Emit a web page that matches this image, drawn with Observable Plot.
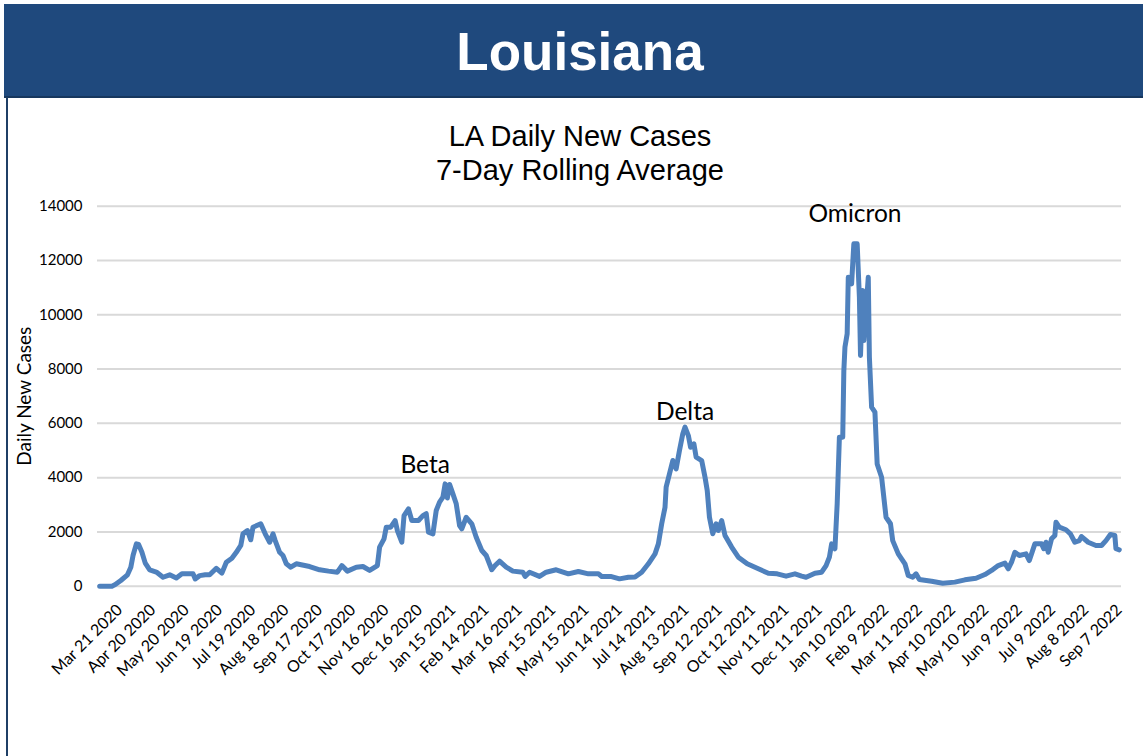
<!DOCTYPE html>
<html>
<head>
<meta charset="utf-8">
<script src="https://cdn.jsdelivr.net/npm/d3@7"></script>
<script src="https://cdn.jsdelivr.net/npm/@observablehq/plot@0.6"></script>
<style>
  html, body { margin: 0; padding: 0; background: #fff; }
  #page { position: relative; width: 1143px; height: 756px; overflow: hidden; background: #fff; }
  #band { position: absolute; left: 4px; top: 4px; right: 0; height: 93px; background: #1F497D; }
  #band-rule { position: absolute; left: 4px; top: 96px; right: 0; height: 2px; background: #17375E; }
  #state { position: absolute; left: 0; top: 22px; width: 1160px; text-align: center;
           font-family: "Liberation Sans", Arial, sans-serif; font-weight: bold; font-size: 53px;
           line-height: 60px; color: #fff; }
  #frame-left { position: absolute; left: 6px; top: 97px; width: 2px; bottom: 0; background: #1F3F66; }
  #title { position: absolute; left: 0; top: 119px; width: 1160px; text-align: center;
           font-family: "Liberation Sans", Arial, sans-serif; font-size: 29px; line-height: 34px; color: #000; }
  #chart { position: absolute; left: 0; top: 0; }
  #chart g[aria-label="x-axis tick label"] text { font-size: 16px; }
  #chart g[aria-label="y-axis tick label"] text { font-size: 15px; }
  #chart g[aria-label="y-axis label"] text { font-size: 19px; }
</style>
</head>
<body>
<div id="page">
  <div id="band"></div>
  <div id="band-rule"></div>
  <div id="state">Louisiana</div>
  <div id="frame-left"></div>
  <div id="title">LA Daily New Cases<br>7-Day Rolling Average</div>
  <div id="chart"></div>
</div>
<script>
// Louisiana 7-day rolling average of daily new COVID-19 cases
const dates = [
  "2020-03-03","2020-03-14","2020-03-17","2020-03-22","2020-03-28","2020-03-31","2020-04-02","2020-04-05",
  "2020-04-07","2020-04-10","2020-04-13","2020-04-17","2020-04-23","2020-04-29","2020-05-05","2020-05-11",
  "2020-05-16","2020-05-26","2020-05-28","2020-06-01","2020-06-06","2020-06-10","2020-06-16","2020-06-21",
  "2020-06-25","2020-06-30","2020-07-04","2020-07-08","2020-07-10","2020-07-14","2020-07-17","2020-07-19",
  "2020-07-26","2020-07-30","2020-08-03","2020-08-06","2020-08-08","2020-08-12","2020-08-15","2020-08-18",
  "2020-08-22","2020-08-27","2020-09-08","2020-09-17","2020-09-25","2020-10-03","2020-10-07","2020-10-12",
  "2020-10-20","2020-10-26","2020-11-01","2020-11-08","2020-11-10","2020-11-14","2020-11-16","2020-11-20",
  "2020-11-24","2020-11-26","2020-11-30","2020-12-02","2020-12-06","2020-12-09","2020-12-15","2020-12-19",
  "2020-12-22","2020-12-24","2020-12-28","2020-12-31","2021-01-03","2021-01-06","2021-01-08","2021-01-10",
  "2021-01-12","2021-01-15","2021-01-18","2021-01-21","2021-01-23","2021-01-27","2021-02-01","2021-02-05",
  "2021-02-10","2021-02-14","2021-02-19","2021-02-22","2021-02-26","2021-03-04","2021-03-10","2021-03-19",
  "2021-03-21","2021-03-25","2021-04-03","2021-04-09","2021-04-18","2021-04-29","2021-05-08","2021-05-17",
  "2021-05-26","2021-05-29","2021-06-06","2021-06-14","2021-06-22","2021-06-28","2021-07-04","2021-07-10",
  "2021-07-16","2021-07-19","2021-07-22","2021-07-25","2021-07-26","2021-07-29","2021-08-01","2021-08-04",
  "2021-08-07","2021-08-10","2021-08-12","2021-08-15","2021-08-17","2021-08-20","2021-08-22","2021-08-27",
  "2021-08-30","2021-09-01","2021-09-03","2021-09-06","2021-09-09","2021-09-11","2021-09-14","2021-09-17",
  "2021-09-23","2021-09-29","2021-10-07","2021-10-17","2021-10-26","2021-11-03","2021-11-11","2021-11-19",
  "2021-11-25","2021-11-29","2021-12-07","2021-12-13","2021-12-17","2021-12-20","2021-12-22","2021-12-25",
  "2021-12-27","2021-12-29","2022-01-01","2022-01-02","2022-01-03","2022-01-05","2022-01-06","2022-01-09",
  "2022-01-11","2022-01-14","2022-01-16","2022-01-17","2022-01-19","2022-01-20","2022-01-24","2022-01-25",
  "2022-01-27","2022-01-30","2022-02-01","2022-02-05","2022-02-09","2022-02-13","2022-02-15","2022-02-20",
  "2022-02-26","2022-03-01","2022-03-05","2022-03-08","2022-03-11","2022-03-22","2022-04-01","2022-04-12",
  "2022-04-21","2022-05-01","2022-05-09","2022-05-15","2022-05-21","2022-05-27","2022-05-30","2022-06-02",
  "2022-06-05","2022-06-09","2022-06-15","2022-06-18","2022-06-23","2022-06-29","2022-07-01","2022-07-03",
  "2022-07-05","2022-07-08","2022-07-11","2022-07-12","2022-07-15","2022-07-21","2022-07-25","2022-07-29",
  "2022-08-02","2022-08-04","2022-08-10","2022-08-17","2022-08-22","2022-08-26","2022-08-30","2022-09-03",
  "2022-09-04","2022-09-07"
];
const cases = [
  0, 0, 60, 210, 420, 700, 1130, 1560,
  1540, 1250, 850, 600, 520, 330, 420, 300,
  455, 455, 270, 390, 420, 420, 660, 480,
  880, 1030, 1250, 1500, 1930, 2050, 1710, 2170,
  2300, 1930, 1620, 1930, 1680, 1250, 1130, 825,
  700, 825, 725, 605, 555, 515, 760, 555,
  700, 725, 580, 760, 1440, 1745, 2175, 2175,
  2420, 2050, 1620, 2600, 2850, 2420, 2420, 2600,
  2670, 1990, 1930, 2790, 3100, 3280, 3770, 3250,
  3750, 3400, 3035, 2235, 2115, 2540, 2300, 1805,
  1315, 1130, 605, 760, 920, 700, 555, 515,
  360, 515, 360, 515, 605, 455, 540, 455,
  455, 360, 360, 270, 330, 340, 515, 825,
  1190, 1560, 2300, 2910, 3650, 4140, 4630, 4325,
  5000, 5615, 5860, 5550, 5120, 5245, 4755, 4630,
  4015, 3525, 2540, 1930, 2300, 2050, 2420, 1870,
  1440, 1070, 825, 640, 480, 455, 370, 455,
  370, 330, 480, 515, 760, 1070, 1560, 1380,
  3035, 5490, 5490, 7945, 8805, 9300, 11385, 11140,
  12615, 12615, 10650, 8500, 10895, 9050, 11385, 8440,
  6595, 6410, 4505, 4015, 2540, 2300, 1680, 1190,
  825, 395, 330, 455, 245, 185, 110, 150,
  235, 295, 430, 580, 760, 850, 640, 885,
  1250, 1130, 1190, 945, 1560, 1560, 1380, 1620,
  1250, 1745, 1870, 2360, 2175, 2080, 1930, 1620,
  1680, 1830, 1620, 1500, 1500, 1680, 1905, 1870,
  1380, 1340
];

// Axis ticks
const xTickDates = [
  "2020-03-21","2020-04-20","2020-05-20","2020-06-19","2020-07-19","2020-08-18","2020-09-17","2020-10-17",
  "2020-11-16","2020-12-16","2021-01-15","2021-02-14","2021-03-16","2021-04-15","2021-05-15","2021-06-14",
  "2021-07-14","2021-08-13","2021-09-12","2021-10-12","2021-11-11","2021-12-11","2022-01-10","2022-02-09",
  "2022-03-11","2022-04-10","2022-05-10","2022-06-09","2022-07-09","2022-08-08","2022-09-07"
];
const yTicks = [0, 2000, 4000, 6000, 8000, 10000, 12000, 14000];

// Wave annotations
const waveNames = ["Beta", "Delta", "Omicron"];
const waveDates = ["2020-12-21", "2021-08-12", "2022-01-12"];
const waveLevels = [4450, 6430, 13700];

const series = dates.map((d, i) => ({date: new Date(d), cases: cases[i]}));
const waves = waveNames.map((name, i) => ({name, date: new Date(waveDates[i]), level: waveLevels[i]}));

const chart = Plot.plot({
  width: 1143,
  height: 756,
  marginTop: 205.7,
  marginBottom: 170.3,
  marginLeft: 97,
  marginRight: 22,
  style: {background: "transparent", fontFamily: "Lato, sans-serif", fontSize: "14px", color: "#000"},
  x: {
    type: "utc",
    domain: [new Date("2020-03-01"), new Date("2022-09-09")],
    ticks: xTickDates.map(d => new Date(d)),
    tickFormat: d3.utcFormat("%b %-d %Y"),
    tickRotate: -45,
    tickSize: 0,
    tickPadding: 21,
    label: null
  },
  y: {
    domain: [0, 14000],
    ticks: yTicks,
    tickFormat: d => String(d),
    tickSize: 0,
    tickPadding: 15,
    label: "Daily New Cases",
    labelAnchor: "center",
    labelArrow: "none",
    labelOffset: 80
  },
  marks: [
    Plot.ruleY(yTicks, {stroke: "#d9d9d9", strokeWidth: 2}),
    Plot.lineY(series, {x: "date", y: "cases", stroke: "#4F81BD", strokeWidth: 5,
                        strokeLinejoin: "round", strokeLinecap: "round"}),
    Plot.text(waves, {x: "date", y: "level", text: "name", fontSize: 24.5, fill: "#000",
                      fontFamily: "Lato, sans-serif", lineAnchor: "middle"})
  ]
});
document.getElementById("chart").appendChild(chart);
</script>
</body>
</html>
